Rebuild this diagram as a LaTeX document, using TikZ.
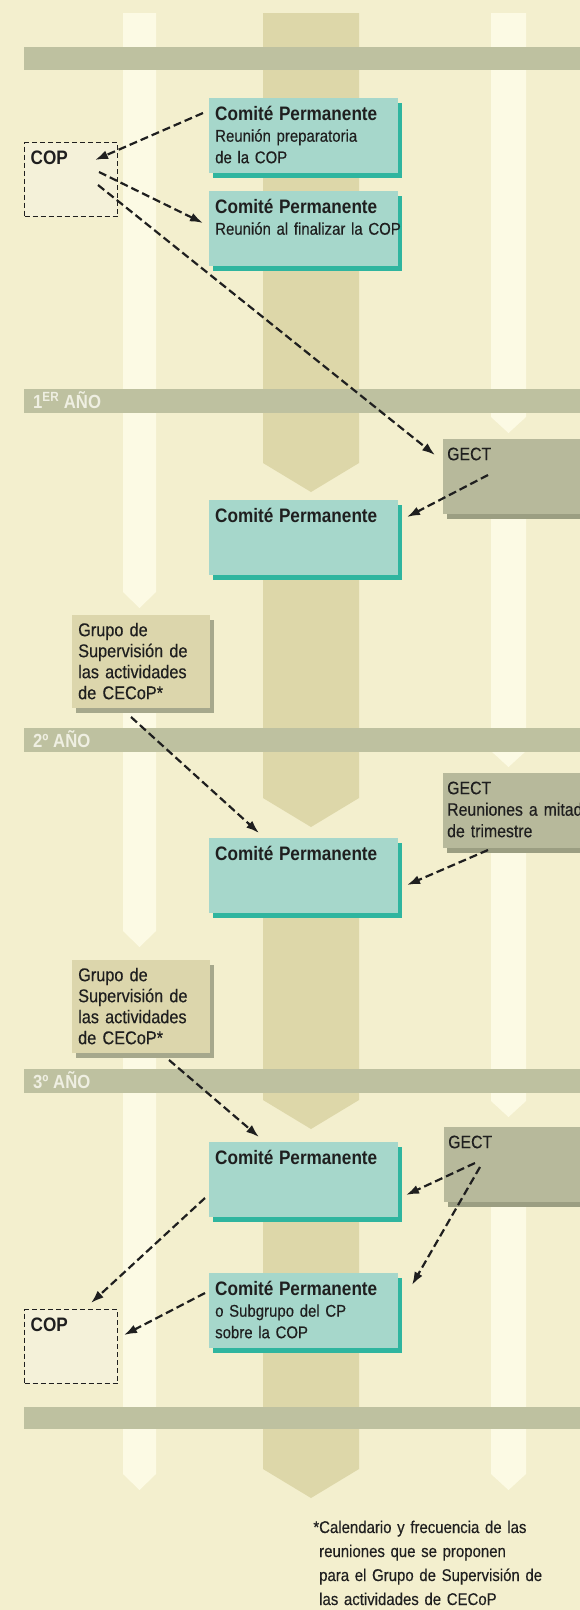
\documentclass[tikz,border=0pt]{standalone}
\usepackage{fontspec}
\setmainfont[FakeStretch=0.88, UprightFeatures={FakeBold=0.3}]{Liberation Sans}
\usetikzlibrary{arrows.meta, shadows}
\definecolor{bgCream}{HTML}{F3EFCE}
\definecolor{trackWhite}{HTML}{FCFAE4}
\definecolor{trackTan}{HTML}{DDD7A9}
\definecolor{bandGray}{HTML}{BEC1A0}
\definecolor{bandText}{HTML}{EFEFE2}
\definecolor{cpTeal}{HTML}{A6D7CB}
\definecolor{cpShadow}{HTML}{2FB59F}
\definecolor{gectGray}{HTML}{B7B99B}
\definecolor{gectShadow}{HTML}{9B9E82}
\definecolor{grupoTan}{HTML}{DCD6AC}
\definecolor{grupoShadow}{HTML}{A6A88C}
\definecolor{copFill}{HTML}{F4F1D9}
\definecolor{inkBlack}{gray}{0.12}
\newcommand{\titlefont}{\bfseries\fontsize{19.5}{21.5}\selectfont}

\begin{document}
\begin{tikzpicture}[x=1pt, y=-1pt,
    cpbox/.style={anchor=north west, fill=cpTeal, text=inkBlack, align=left,
        inner xsep=6pt, inner ysep=4pt, text width=177pt, text height=18pt, text depth=49pt,
        font=\fontsize{17}{21.5}\selectfont,
        drop shadow={shadow xshift=4pt, shadow yshift=-5pt, fill=cpShadow, opacity=1}},
    gectbox/.style={anchor=north west, fill=gectGray, text=inkBlack, align=left,
        inner xsep=4pt, inner ysep=4pt, text width=150pt, text height=17pt, text depth=50pt,
        font=\fontsize{18}{21.5}\selectfont,
        drop shadow={shadow xshift=4pt, shadow yshift=-5pt, fill=gectShadow, opacity=1}},
    grupobox/.style={anchor=north west, fill=grupoTan, text=inkBlack, align=left,
        inner xsep=6pt, inner ysep=4pt, text width=126pt, text height=17pt, text depth=68pt,
        font=\fontsize{18.5}{21}\selectfont,
        drop shadow={shadow xshift=4pt, shadow yshift=-5pt, fill=grupoShadow, opacity=1}},
    copbox/.style={anchor=north west, fill=copFill, draw=inkBlack, line width=1.4pt,
        dash pattern=on 5pt off 3pt, text=inkBlack, align=left,
        inner xsep=6pt, inner ysep=4pt, text width=81pt, text height=18pt, text depth=48pt,
        font=\titlefont},
    yearlbl/.style={anchor=base west, inner sep=0pt, text=bandText,
        font=\bfseries\fontsize{19}{20}\selectfont},
    note/.style={anchor=base west, inner sep=0pt, text width=250pt, align=left,
        text=inkBlack, font=\fontsize{17}{24}\selectfont},
    flow/.style={draw=inkBlack, line width=2.2pt, dash pattern=on 8pt off 4pt,
        -{Latex[length=13pt, width=9pt]}}]

    % Canvas
    \useasboundingbox (0,0) rectangle (580,1610);
    \fill[bgCream] (0,0) rectangle (580,1610);
    \clip (0,0) rectangle (580,1610);

    % Left track
    \fill[trackWhite] (123,13) -- (156,13) -- (156,592) -- (139.5,608) -- (123,592) -- cycle;
    \fill[trackWhite] (123,620) -- (156,620) -- (156,931) -- (139.5,947) -- (123,931) -- cycle;
    \fill[trackWhite] (123,965) -- (156,965) -- (156,1474) -- (139.5,1490) -- (123,1474) -- cycle;

    % Right track
    \fill[trackWhite] (491,13) -- (526,13) -- (526,417) -- (508.5,433) -- (491,417) -- cycle;
    \fill[trackWhite] (491,445) -- (526,445) -- (526,751) -- (508.5,767) -- (491,751) -- cycle;
    \fill[trackWhite] (491,780) -- (526,780) -- (526,1101) -- (508.5,1117) -- (491,1101) -- cycle;
    \fill[trackWhite] (491,1130) -- (526,1130) -- (526,1474) -- (508.5,1490) -- (491,1474) -- cycle;

    % Centre track
    \fill[trackTan] (263,13) -- (359,13) -- (359,463) -- (311,492) -- (263,463) -- cycle;
    \fill[trackTan] (263,505) -- (359,505) -- (359,798) -- (311,827) -- (263,798) -- cycle;
    \fill[trackTan] (263,842) -- (359,842) -- (359,1100) -- (311,1129) -- (263,1100) -- cycle;
    \fill[trackTan] (263,1146) -- (359,1146) -- (359,1469) -- (311,1498) -- (263,1469) -- cycle;

    % Year bands
    \fill[bandGray] (24,47) rectangle (580,70);
    \fill[bandGray] (24,389) rectangle (580,413);
    \fill[bandGray] (24,728) rectangle (580,752);
    \fill[bandGray] (24,1069) rectangle (580,1093);
    \fill[bandGray] (24,1407) rectangle (580,1429);
    \node[yearlbl] (yr1) at (33,408) {1\textsuperscript{ER} AÑO};
    \node[yearlbl] (yr2) at (33,747) {2º AÑO};
    \node[yearlbl] (yr3) at (33,1088) {3º AÑO};

    % Meetings
    \node[copbox] (cop1) at (24,142) {COP};
    \node[cpbox] (cp1) at (209,98) {{\titlefont Comité Permanente}\\Reunión preparatoria\\de la COP};
    \node[cpbox] (cp2) at (209,191) {{\titlefont Comité Permanente}\\\mbox{Reunión al finalizar la COP}};
    \node[gectbox] (gect1) at (443,439) {GECT};
    \node[cpbox] (cp3) at (209,500) {{\titlefont Comité Permanente}};
    \node[grupobox] (grupo1) at (72,615) {Grupo de\\Supervisión de\\las actividades\\de CECoP*};
    \node[gectbox] (gect2) at (443,773) {GECT\\Reuniones a mitad\\de trimestre};
    \node[cpbox] (cp4) at (209,838) {{\titlefont Comité Permanente}};
    \node[grupobox] (grupo2) at (72,960) {Grupo de\\Supervisión de\\las actividades\\de CECoP*};
    \node[gectbox] (gect3) at (444,1127) {GECT};
    \node[cpbox] (cp5) at (209,1142) {{\titlefont Comité Permanente}};
    \node[cpbox] (cp6) at (209,1273) {{\titlefont Comité Permanente}\\o Subgrupo del CP\\sobre la COP};
    \node[copbox] (cop2) at (24,1309) {COP};

    % Arrows
    \draw[flow] ([shift={(-6,15)}]cp1.north west) -- ([shift={(71,18)}]cop1.north west);
    \draw[flow] ([shift={(75,30)}]cop1.north west) -- ([shift={(-6,32)}]cp2.north west);
    \draw[flow] ([shift={(74,43)}]cop1.north west) -- ([shift={(-8,16)}]gect1.north west);
    \draw[flow] ([shift={(45,36)}]gect1.north west) -- ([shift={(198,17)}]cp3.north west);
    \draw[flow] ([shift={(59,102)}]grupo1.north west) -- ([shift={(50,-5)}]cp4.north west);
    \draw[flow] ([shift={(45,77)}]gect2.north west) -- ([shift={(198,47)}]cp4.north west);
    \draw[flow] ([shift={(97,100)}]grupo2.north west) -- ([shift={(50,-5)}]cp5.north west);
    \draw[flow] ([shift={(31,36)}]gect3.north west) -- ([shift={(197,53)}]cp5.north west);
    \draw[flow] ([shift={(36,40)}]gect3.north west) -- ([shift={(203,12)}]cp6.north west);
    \draw[flow] ([shift={(-4,56)}]cp5.north west) -- ([shift={(67,-6)}]cop2.north west);
    \draw[flow] ([shift={(-4,20)}]cp6.north west) -- ([shift={(100,26)}]cop2.north west);

    % Footnote
    \node[note] (fnote) at (319,1533) {\llap{*}Calendario y frecuencia de las\\reuniones que se proponen\\para el Grupo de Supervisión de\\las actividades de CECoP};
\end{tikzpicture}
\end{document}
